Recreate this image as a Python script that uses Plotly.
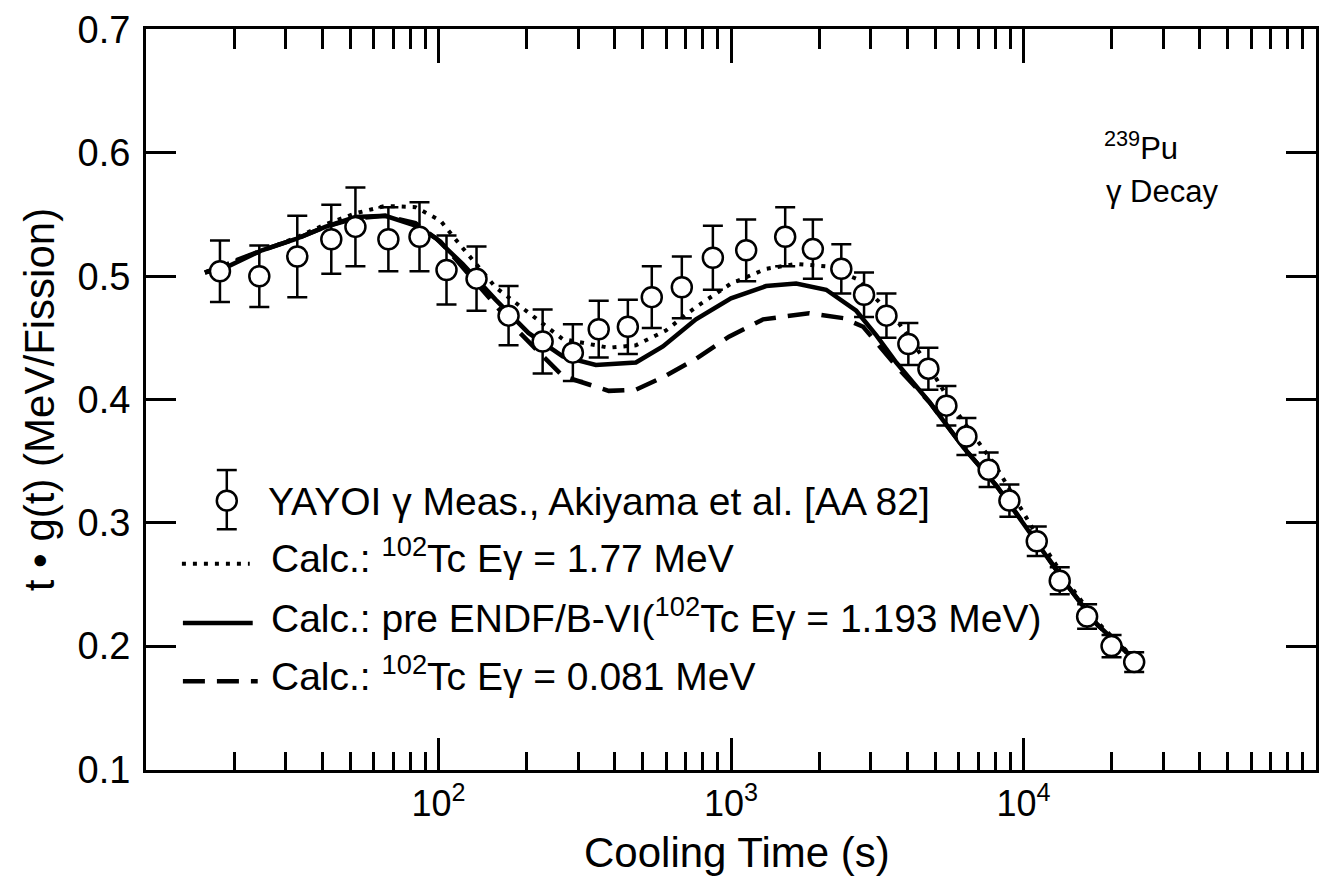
import plotly.graph_objects as go

# ---------------- data ----------------
meas_t = [17.9, 24.4, 32.9, 43.0, 52.0, 67.4, 86.1, 106.5, 134.9, 173.6, 227, 288, 353,
          444, 536, 679, 867, 1127, 1532, 1905, 2383, 2850, 3400, 4040, 4730, 5450,
          6380, 7600, 8950, 11100, 13300, 16500, 20000, 23900]
meas_y = [0.504, 0.500, 0.516, 0.530, 0.540, 0.530, 0.532, 0.505, 0.498, 0.468, 0.447,
          0.438, 0.457, 0.459, 0.483, 0.491, 0.515, 0.521, 0.532, 0.522, 0.506, 0.485,
          0.468, 0.445, 0.425, 0.395, 0.370, 0.343, 0.318, 0.285, 0.253, 0.224, 0.200, 0.187]
meas_err = [0.025, 0.025, 0.033, 0.028, 0.032, 0.026, 0.028, 0.028, 0.026, 0.024, 0.026,
            0.023, 0.023, 0.022, 0.025, 0.025, 0.026, 0.025, 0.024, 0.024, 0.020, 0.018,
            0.018, 0.017, 0.017, 0.016, 0.015, 0.014, 0.013, 0.012, 0.011, 0.010, 0.009, 0.008]

solid_t = [15.9, 19.1, 24.9, 32.4, 41.0, 52.0, 65.8, 83.4, 97.7, 120.8, 156.7, 203, 266,
           345, 473, 585, 759, 1000, 1318, 1670, 2115, 2680, 3140, 3673, 4764, 6237,
           8090, 11090, 14030, 17780, 22530, 25350]
solid_y = [0.503, 0.508, 0.521, 0.530, 0.540, 0.548, 0.549, 0.541, 0.531, 0.510, 0.481,
           0.454, 0.435, 0.428, 0.430, 0.443, 0.465, 0.482, 0.492, 0.494, 0.489, 0.472,
           0.452, 0.430, 0.398, 0.361, 0.330, 0.285, 0.250, 0.218, 0.195, 0.185]

dot_t = [15.9, 24.9, 32.4, 41.0, 52.0, 65.8, 83.4, 101.6, 117, 156.7, 203, 266, 382,
         473, 599, 759, 1000, 1318, 1670, 2115, 2680, 3673, 4656, 5902, 8090, 11090,
         14030, 17780, 22530, 25350]
dot_y = [0.503, 0.521, 0.531, 0.542, 0.551, 0.557, 0.556, 0.545, 0.527, 0.491, 0.470,
         0.449, 0.442, 0.444, 0.456, 0.475, 0.494, 0.506, 0.510, 0.508, 0.498, 0.465,
         0.430, 0.390, 0.345, 0.290, 0.253, 0.220, 0.196, 0.186]

dash_t = [15.9, 24.9, 32.4, 41.0, 52.0, 65.8, 83.4, 101.6, 134, 188, 266, 382, 473, 585,
          759, 984, 1288, 1849, 2420, 2831, 3673, 4764, 6237, 8090, 11090, 14030, 17780,
          22530, 25350]
dash_y = [0.503, 0.521, 0.530, 0.540, 0.547, 0.549, 0.543, 0.528, 0.495, 0.455, 0.419,
          0.407, 0.408, 0.418, 0.433, 0.451, 0.465, 0.470, 0.466, 0.459, 0.427, 0.398,
          0.361, 0.330, 0.285, 0.250, 0.218, 0.195, 0.185]

major_ticks = [100, 1000, 10000]
major_text = ["10<sup>2</sup>", "10<sup>3</sup>", "10<sup>4</sup>"]
minor_ticks = [m * d for d in (10, 100, 1000, 10000) for m in range(2, 10)]
y_ticks = [0.1, 0.2, 0.3, 0.4, 0.5, 0.6, 0.7]

legend_labels = [
    "YAYOI γ Meas., Akiyama et al. [AA 82]",
    "Calc.: <sup>102</sup>Tc Eγ = 1.77 MeV",
    "Calc.: pre ENDF/B-VI(<sup>102</sup>Tc Eγ = 1.193 MeV)",
    "Calc.: <sup>102</sup>Tc Eγ = 0.081 MeV",
]

FONT = "Liberation Sans, Arial, Helvetica, sans-serif"
W, H = 1328, 888
L, R, T, B = 146, 9, 19, 118
PW, PH = W - L - R, H - T - B


def px(x):
    return (x - L) / PW


def py(y):
    return (H - B - y) / PH


fig = go.Figure()
fig.add_trace(go.Scatter(x=dot_t, y=dot_y, mode="lines",
                         line=dict(color="black", width=4, dash="4px,7px"), hoverinfo="skip"))
fig.add_trace(go.Scatter(x=dash_t, y=dash_y, mode="lines",
                         line=dict(color="black", width=4.5, dash="22px,12px"), hoverinfo="skip"))
fig.add_trace(go.Scatter(x=solid_t, y=solid_y, mode="lines",
                         line=dict(color="black", width=4.5), hoverinfo="skip"))
fig.add_trace(go.Scatter(x=meas_t, y=meas_y, mode="markers",
                         marker=dict(symbol="circle", size=20, color="white",
                                     line=dict(color="black", width=2.5)),
                         error_y=dict(type="data", array=meas_err, visible=True,
                                      color="black", thickness=2.5, width=10)))
# invisible traces so that the extra tick axes are drawn
for xa in ("x2", "x3", "x4"):
    fig.add_trace(go.Scatter(x=[major_ticks[0]], y=[y_ticks[0]], xaxis=xa, mode="markers",
                             marker=dict(opacity=0), hoverinfo="skip", showlegend=False))

shapes = []
annotations = []
sample_rows = [497, 561, 621, 680]
text_rows = [498, 553, 613, 672]
cx, r = 227, 10
shapes.append(dict(type="line", xref="paper", yref="paper", x0=px(cx), x1=px(cx),
                   y0=py(sample_rows[0] - 31), y1=py(sample_rows[0] + 29),
                   line=dict(color="black", width=2.5)))
for dy in (-31, 29):
    shapes.append(dict(type="line", xref="paper", yref="paper", x0=px(cx - 10), x1=px(cx + 10),
                       y0=py(sample_rows[0] + dy), y1=py(sample_rows[0] + dy),
                       line=dict(color="black", width=2.5)))
shapes.append(dict(type="circle", xref="paper", yref="paper", x0=px(cx - r), x1=px(cx + r),
                   y0=py(sample_rows[0] + r), y1=py(sample_rows[0] - r), fillcolor="white",
                   line=dict(color="black", width=2.5)))
samples = [("4px,7px", 4, 182, 250), ("solid", 4.5, 183, 253), ("22px,12px", 4.5, 183, 258)]
for (dash, w, xa, xb), ry in zip(samples, sample_rows[1:]):
    shapes.append(dict(type="line", xref="paper", yref="paper", x0=px(xa), x1=px(xb),
                       y0=py(ry), y1=py(ry), line=dict(color="black", width=w, dash=dash)))
for lab, ry, x0 in zip(legend_labels, text_rows, [266, 269, 269, 269]):
    annotations.append(dict(text=lab, xref="paper", yref="paper", x=px(x0), y=py(ry),
                            xanchor="left", yanchor="middle", showarrow=False,
                            font=dict(family=FONT, size=39, color="black")))

annotations.append(dict(text="<sup>239</sup>Pu", xref="paper", yref="paper", x=px(1104), y=py(138),
                        xanchor="left", yanchor="middle", showarrow=False,
                        font=dict(family=FONT, size=31, color="black")))
annotations.append(dict(text="γ Decay", xref="paper", yref="paper", x=px(1106), y=py(184),
                        xanchor="left", yanchor="middle", showarrow=False,
                        font=dict(family=FONT, size=31, color="black")))
annotations.append(dict(text="t • g(t) (MeV/Fission)", xref="paper", yref="paper",
                        x=px(40), y=py(395), xanchor="center", yanchor="middle",
                        textangle=-90, showarrow=False,
                        font=dict(family=FONT, size=42, color="black")))
annotations.append(dict(text="Cooling Time (s)", xref="paper", yref="paper",
                        x=px(739), y=py(854), xanchor="center", yanchor="middle",
                        showarrow=False, font=dict(family=FONT, size=42, color="black")))

tick_common = dict(ticks="inside", tickwidth=2.5, tickcolor="black")
extra_axis = dict(type="log", range=[1, 5], overlaying="x", showgrid=False, zeroline=False,
                  showline=False, showticklabels=False, tickmode="array", **tick_common)
fig.update_layout(
    width=W, height=H, margin=dict(l=L, r=R, t=T, b=B),
    paper_bgcolor="white", plot_bgcolor="white", showlegend=False,
    shapes=shapes, annotations=annotations,
    xaxis=dict(type="log", range=[1, 5], showgrid=False, zeroline=False,
               showline=True, linewidth=3, linecolor="black", mirror=True,
               tickmode="array", tickvals=major_ticks, ticktext=major_text,
               ticklen=32, ticklabelstandoff=0, **tick_common,
               tickfont=dict(family=FONT, size=36, color="black")),
    xaxis3=dict(side="bottom", tickvals=minor_ticks, ticklen=18, **extra_axis),
    xaxis2=dict(side="top", tickvals=major_ticks, ticklen=34, **extra_axis),
    xaxis4=dict(side="top", tickvals=minor_ticks, ticklen=20, **extra_axis),
    yaxis=dict(range=[0.0995, 0.7005], showgrid=False, zeroline=False,
               showline=True, linewidth=3, linecolor="black", mirror="ticks",
               tickmode="array", tickvals=y_ticks, ticktext=[f"{v:.1f}" for v in y_ticks],
               ticklen=30, ticklabelstandoff=5, ticklabeloverflow="allow", **tick_common,
               tickfont=dict(family=FONT, size=38, color="black")),
)

fig.write_html("out.html", config={"displayModeBar": False},
               post_script="document.body.style.margin='0';")
